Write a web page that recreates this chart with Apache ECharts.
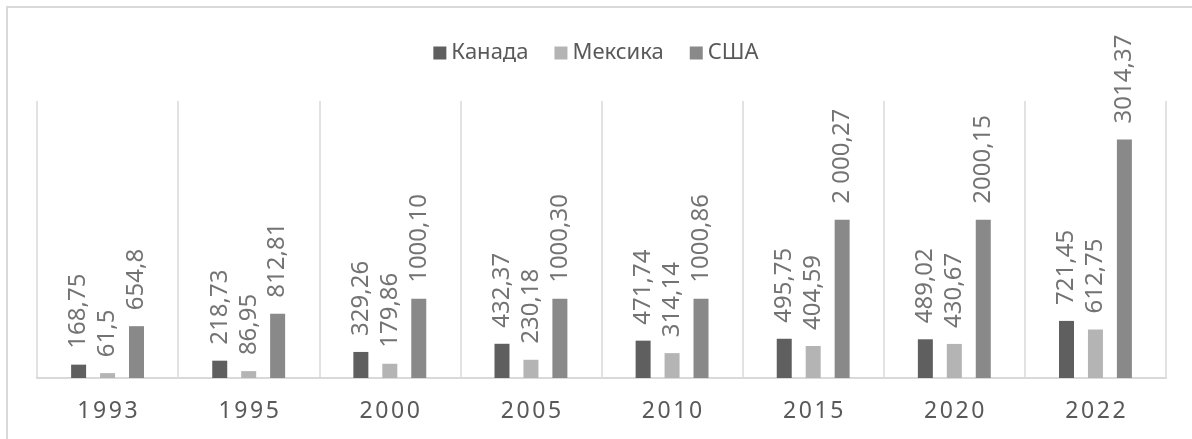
<!DOCTYPE html>
<html>
<head>
<meta charset="utf-8">
<script src="https://cdn.jsdelivr.net/npm/echarts@6/dist/echarts.min.js"></script>
<style>
  html, body { margin: 0; padding: 0; background: #fff; }
  #chart { width: 1192px; height: 439px; }
</style>
</head>
<body>
<div id="chart"></div>
<script>
const years = ['1993', '1995', '2000', '2005', '2010', '2015', '2020', '2022'];
const canada = [168.75, 218.73, 329.26, 432.37, 471.74, 495.75, 489.02, 721.45];
const mexico = [61.5, 86.95, 179.86, 230.18, 314.14, 404.59, 430.67, 612.75];
const usa = [654.8, 812.81, 1000.10, 1000.30, 1000.86, 2000.27, 2000.15, 3014.37];
// подписи как в исходной таблице
const canadaText = ['168,75', '218,73', '329,26', '432,37', '471,74', '495,75', '489,02', '721,45'];
const mexicoText = ['61,5', '86,95', '179,86', '230,18', '314,14', '404,59', '430,67', '612,75'];
const usaText = ['654,8', '812,81', '1000,10', '1000,30', '1000,86', '2 000,27', '2000,15', '3014,37'];

const font = 'Noto Sans, DejaVu Sans, sans-serif';

function makeLabel(texts) {
    return {
        show: true,
        position: 'top',
        rotate: 90,
        align: 'left',
        verticalAlign: 'middle',
        distance: 16,
        fontFamily: font,
        fontSize: 24,
        color: '#737373',
        formatter: p => texts[p.dataIndex]
    };
}

const myChart = echarts.init(document.getElementById('chart'));
const option = {
    animation: false,
    color: ['#5f5f5f', '#b4b4b4', '#898989'],
    graphic: [{
        type: 'rect',
        shape: { x: 7, y: 7, width: 1300, height: 600 },
        style: { fill: 'none', stroke: '#d9d9d9', lineWidth: 2 },
        silent: true
    }],
    legend: {
        top: 37,
        left: 'center',
        itemWidth: 13,
        itemHeight: 13,
        itemGap: 26,
        icon: 'rect',
        textStyle: { fontFamily: font, fontSize: 22, color: '#595959' },
        data: ['Канада', 'Мексика', 'США']
    },
    grid: { left: 37, right: 26, top: 101, bottom: 61 },
    xAxis: {
        type: 'category',
        data: years,
        axisLine: { lineStyle: { color: '#d9d9d9', width: 2 } },
        axisTick: { show: false },
        splitLine: { show: true, lineStyle: { color: '#d9d9d9', width: 1.5 } },
        axisLabel: {
            margin: 22,
            formatter: v => v.split('').map(c => '{d|' + c + '}').join(''),
            rich: {
                d: { fontFamily: font, fontSize: 23, color: '#595959', padding: [0, 1.3] }
            }
        }
    },
    yAxis: {
        type: 'value',
        min: 0,
        max: 3500,
        interval: 500,
        show: false
    },
    series: [
        { name: 'Канада', type: 'bar', barWidth: 15, barGap: '93%', data: canada, label: makeLabel(canadaText) },
        { name: 'Мексика', type: 'bar', barWidth: 15, barGap: '93%', data: mexico, label: makeLabel(mexicoText) },
        { name: 'США', type: 'bar', barWidth: 15, barGap: '93%', data: usa, label: makeLabel(usaText) }
    ]
};
myChart.setOption(option);
window.addEventListener('resize', () => {
    myChart.resize();
});
</script>
</body>
</html>
